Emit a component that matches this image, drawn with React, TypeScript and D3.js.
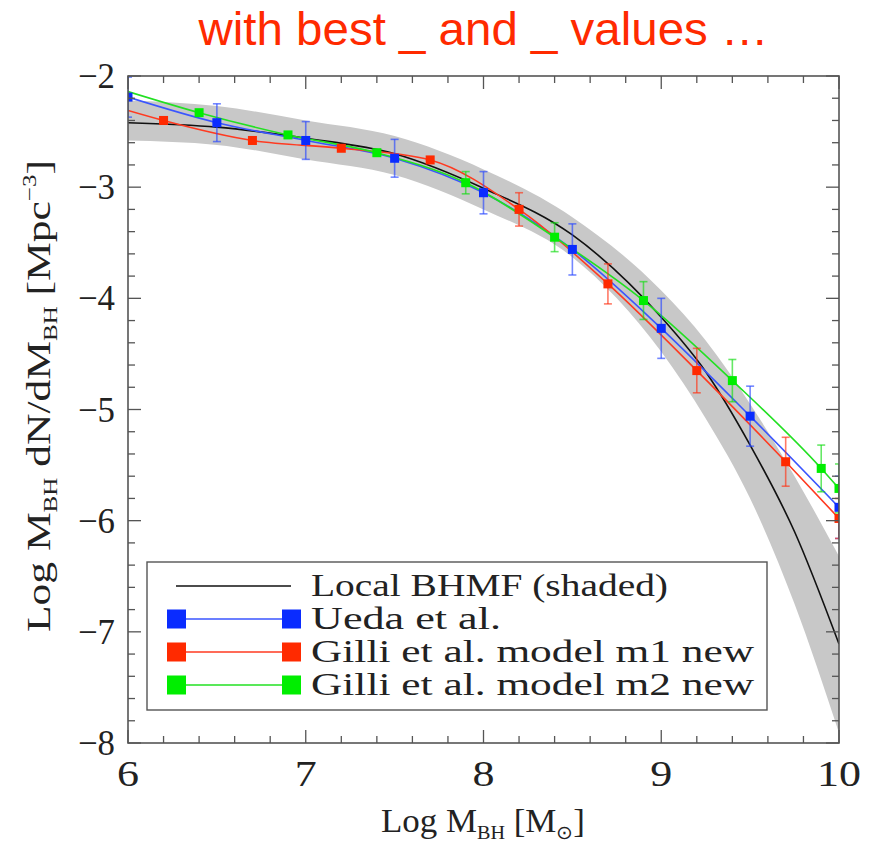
import React from "react";
import * as d3 from "d3";

// ---------- data ----------
const bhmfX = [6, 6.5, 7, 7.5, 8, 8.5, 9, 9.25, 9.5, 9.75, 10];
const bhmfY = [-2.42, -2.46, -2.56, -2.7, -3.01, -3.43, -4.17, -4.66, -5.32, -6.1, -7.11];
const bandUpper = [-2.22, -2.27, -2.4, -2.54, -2.84, -3.27, -3.93, -4.38, -4.95, -5.6, -6.32];
const bandLower = [-2.58, -2.62, -2.75, -2.89, -3.2, -3.63, -4.48, -5.08, -5.8, -6.75, -7.91];

const uedaX = [6, 6.5, 7, 7.5, 8, 8.5, 9, 9.5, 10];
const uedaY = [-2.19, -2.42, -2.58, -2.74, -3.05, -3.56, -4.27, -5.06, -5.88];
const uedaErr = [0.18, 0.17, 0.17, 0.17, 0.19, 0.23, 0.27, 0.27, 0.28];

const m1X = [6.2, 6.7, 7.2, 7.7, 8.2, 8.7, 9.2, 9.7, 10];
const m1Y = [-2.4, -2.58, -2.65, -2.755, -3.2, -3.87, -4.65, -5.47, -5.98];
const m1Err = [0, 0, 0, 0, 0.15, 0.18, 0.2, 0.22, 0.18];
const m1LineStart = -2.31; // line value at x = 6 (no marker)

const m2X = [6.4, 6.9, 7.4, 7.9, 8.4, 8.9, 9.4, 9.9, 10];
const m2Y = [-2.33, -2.53, -2.69, -2.96, -3.45, -4.02, -4.74, -5.53, -5.71];
const m2Err = [0, 0, 0, 0.1, 0.13, 0.17, 0.19, 0.21, 0.22];
const m2LineStart = -2.14;

const xTicks = [6, 7, 8, 9, 10];
const yTicks = [-2, -3, -4, -5, -6, -7, -8];

const legendLabels = [
  "Local BHMF (shaded)",
  "Ueda et al.",
  "Gilli et al. model m1 new",
  "Gilli et al. model m2 new",
];

const titleText = "with best _ and _ values …";

// ---------- layout ----------
const W = 870, H = 843;
const L = 128, R = 839, T = 76, B = 743;

const COL_BLUE = "#0a2cff";
const COL_RED = "#ff2a00";
const COL_GREEN = "#00ee00";

export default function App() {
  const x = d3.scaleLinear().domain([6, 10]).range([L, R]);
  const y = d3.scaleLinear().domain([-8, -2]).range([B, T]);

  const bandData = bhmfX.map((v, i) => ({ x: v, u: bandUpper[i], l: bandLower[i] }));
  const area = d3
    .area<any>()
    .x((d) => x(d.x))
    .y0((d) => y(d.l))
    .y1((d) => y(d.u))
    .curve(d3.curveMonotoneX);

  const line = d3
    .line<[number, number]>()
    .x((d) => x(d[0]))
    .y((d) => y(d[1]))
    .curve(d3.curveMonotoneX);

  const bhmfPts: [number, number][] = bhmfX.map((v, i) => [v, bhmfY[i]]);

  const series = [
    { xs: uedaX, ys: uedaY, err: uedaErr, color: COL_BLUE, lineColor: "#3a55ff", errColor: "rgba(40,70,255,0.65)", start: null as number | null },
    { xs: m1X, ys: m1Y, err: m1Err, color: COL_RED, lineColor: "#ff3a20", errColor: "rgba(255,50,20,0.65)", start: m1LineStart },
    { xs: m2X, ys: m2Y, err: m2Err, color: COL_GREEN, lineColor: "#22e022", errColor: "rgba(20,220,20,0.65)", start: m2LineStart },
  ];

  const xMinor = d3.range(6, 10.001, 0.2);
  const yMinor = d3.range(-8, -1.999, 0.2);
  const frameColor = "#555";
  const serif = "'Liberation Serif', 'Times New Roman', serif";

  const legendRows = [586, 619, 652, 685];
  const mk = 9;

  return (
    <svg width={W} height={H} style={{ position: "absolute", left: 0, top: 0, background: "#fff" }}>
      <defs>
        <clipPath id="plotClip">
          <rect x={L} y={T} width={R - L} height={B - T} />
        </clipPath>
      </defs>

      {/* title */}
      <text x={(L + R) / 2} y={45} textAnchor="middle" fontFamily="'Liberation Sans', Arial, sans-serif"
        fontSize={47} fill="#ff2a00" textLength={570} lengthAdjust="spacingAndGlyphs">
        {titleText}
      </text>

      <g clipPath="url(#plotClip)">
        <path d={area(bandData) || ""} fill="#c8c8c8" />
        <path d={line(bhmfPts) || ""} fill="none" stroke="#111" strokeWidth={1.6} />
        {series.map((s, si) => {
          const pts: [number, number][] = s.xs.map((v, i) => [v, s.ys[i]]);
          if (s.start !== null) pts.unshift([6, s.start]);
          return <path key={"l" + si} d={line(pts) || ""} fill="none" stroke={s.lineColor} strokeWidth={1.6} />;
        })}
        {series.map((s, si) => (
          <g key={"e" + si} stroke={s.errColor} strokeWidth={1.6}>
            {s.xs.map((v, i) =>
              s.err[i] > 0 ? (
                <g key={i}>
                  <line x1={x(v)} x2={x(v)} y1={y(s.ys[i] + s.err[i])} y2={y(s.ys[i] - s.err[i])} />
                  <line x1={x(v) - 4} x2={x(v) + 4} y1={y(s.ys[i] + s.err[i])} y2={y(s.ys[i] + s.err[i])} />
                  <line x1={x(v) - 4} x2={x(v) + 4} y1={y(s.ys[i] - s.err[i])} y2={y(s.ys[i] - s.err[i])} />
                </g>
              ) : null
            )}
          </g>
        ))}
        {series.map((s, si) => (
          <g key={"m" + si} fill={s.color}>
            {s.xs.map((v, i) => (
              <rect key={i} x={x(v) - mk / 2} y={y(s.ys[i]) - mk / 2} width={mk} height={mk} />
            ))}
          </g>
        ))}
      </g>

      {/* frame + ticks */}
      <rect x={L} y={T} width={R - L} height={B - T} fill="none" stroke={frameColor} strokeWidth={1.6} />
      <g stroke={frameColor} strokeWidth={1.3}>
        {xMinor.map((v, i) => {
          const major = Math.abs(v - Math.round(v)) < 1e-6;
          const len = major ? 13 : 7;
          return (
            <g key={"xt" + i}>
              <line x1={x(v)} x2={x(v)} y1={B} y2={B - len} />
              <line x1={x(v)} x2={x(v)} y1={T} y2={T + len} />
            </g>
          );
        })}
        {yMinor.map((v, i) => {
          const major = Math.abs(v - Math.round(v)) < 1e-6;
          const len = major ? 13 : 7;
          return (
            <g key={"yt" + i}>
              <line x1={L} x2={L + len} y1={y(v)} y2={y(v)} />
              <line x1={R} x2={R - len} y1={y(v)} y2={y(v)} />
            </g>
          );
        })}
      </g>

      {/* tick labels */}
      <g fontFamily={serif} fontSize={36} fill="#222">
        {xTicks.map((v) => {
          const s = String(v);
          return (
            <text key={"xl" + v} x={x(v)} y={786} textAnchor="middle"
              textLength={s.length * 22} lengthAdjust="spacingAndGlyphs">{s}</text>
          );
        })}
        {yTicks.map((v) => (
          <text key={"yl" + v} x={115} y={y(v) + 12} textAnchor="end"
            textLength={37} lengthAdjust="spacingAndGlyphs">{"\u2212" + String(Math.abs(v))}</text>
        ))}
      </g>

      {/* axis titles */}
      <text x={381} y={832} fontFamily={serif} fontSize={33} fill="#222" textLength={204} lengthAdjust="spacingAndGlyphs">
        <tspan>Log M</tspan>
        <tspan fontSize={19} dy={7}>BH</tspan>
        <tspan dy={-7}> [M</tspan>
        <tspan fontSize={19} dy={7}>⊙</tspan>
        <tspan dy={-7}>]</tspan>
      </text>
      <text transform={`translate(50, 632) rotate(-90)`} fontFamily={serif} fontSize={33} fill="#222"
        textLength={472} lengthAdjust="spacingAndGlyphs">
        <tspan>Log M</tspan>
        <tspan fontSize={19} dy={7}>BH</tspan>
        <tspan dy={-7}> dN/dM</tspan>
        <tspan fontSize={19} dy={7}>BH</tspan>
        <tspan dy={-7}> [Mpc</tspan>
        <tspan fontSize={19} dy={-14}>{"\u22123"}</tspan>
        <tspan dy={14}>]</tspan>
      </text>

      {/* legend */}
      <rect x={147} y={562} width={620} height={148} fill="none" stroke={frameColor} strokeWidth={1.4} />
      <line x1={176} x2={291} y1={legendRows[0]} y2={legendRows[0]} stroke="#111" strokeWidth={1.6} />
      {series.map((s, si) => {
        const ry = legendRows[si + 1];
        return (
          <g key={"lg" + si}>
            <line x1={176} x2={291} y1={ry} y2={ry} stroke={s.lineColor} strokeWidth={1.6} />
            <rect x={167} y={ry - 9.5} width={19} height={19} fill={s.color} />
            <rect x={282} y={ry - 9.5} width={19} height={19} fill={s.color} />
          </g>
        );
      })}
      <g fontFamily={serif} fontSize={32} fill="#222">
        {legendLabels.map((t, i) => (
          <text key={"lt" + i} x={311} y={legendRows[i] + 10}
            textLength={[357, 190, 443, 443][i]} lengthAdjust="spacingAndGlyphs">{t}</text>
        ))}
      </g>
    </svg>
  );
}
